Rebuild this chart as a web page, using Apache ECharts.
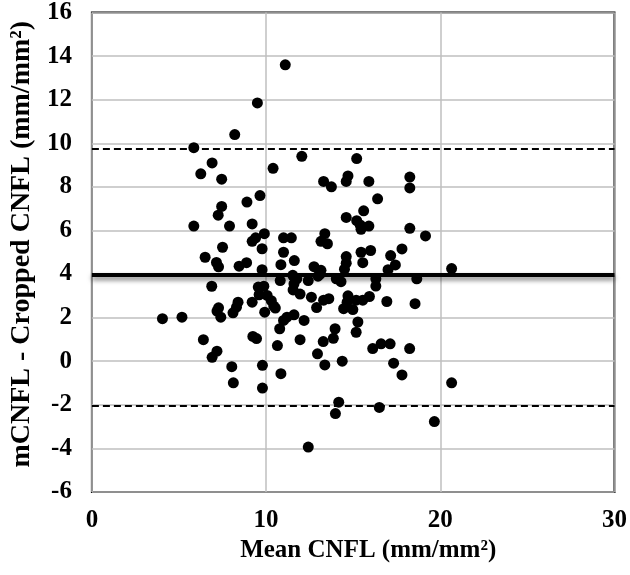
<!DOCTYPE html>
<html>
<head>
<meta charset="utf-8">
<script src="https://cdn.jsdelivr.net/npm/echarts@6/dist/echarts.min.js"></script>
<style>html,body{margin:0;padding:0;background:#fff;}#chart{width:630px;height:575px;}</style>
</head>
<body>
<div id="chart"></div>
<script>
// Mean CNFL (x) values
const meanCNFL = [
11.1,9.5,8.2,5.85,12.05,6.9,6.25,10.4,7.45,15.2,14.7,14.6,13.3,13.75,15.9,18.25,18.25,9.65,7.45,8.9,
7.25,16.4,5.85,7.9,9.2,14.6,15.6,15.2,15.4,15.45,15.9,18.25,19.15,9.9,9.4,9.2,11.0,11.45,9.77,11.0,
7.5,13.37,13.52,13.15,17.8,15.45,16.0,6.5,7.15,7.27,8.45,8.88,9.77,10.85,11.62,12.75,13.15,14.6,14.6,14.5,
15.55,17.15,17.42,17.0,20.65,6.88,9.55,9.87,9.6,10.06,10.3,10.44,10.81,11.53,11.76,11.6,11.55,11.95,12.42,12.98,
12.6,13.3,13.6,14.03,14.3,14.7,15.17,15.55,16.3,16.3,18.65,15.93,16.93,18.55,14.65,7.27,7.18,7.4,8.39,8.3,
8.1,9.2,9.92,10.53,4.05,5.17,11.0,11.2,11.6,12.18,10.78,12.9,14.45,14.98,15.27,15.17,9.24,9.45,6.4,7.18,
6.9,10.65,11.95,13.28,13.86,13.96,12.95,13.37,14.37,8.03,8.12,9.79,10.85,9.79,14.17,13.98,12.42,16.12,16.6,17.12,
18.24,17.32,17.8,20.65,16.5,19.66,13.1
];
// mCNFL - Cropped CNFL (y) values
const diffCNFL = [
13.6,11.85,10.4,9.8,9.4,9.1,8.6,8.85,8.35,9.3,8.5,8.25,8.25,8.0,8.25,8.45,7.95,7.6,7.1,7.3,
6.7,7.45,6.2,6.2,6.3,6.6,6.9,6.45,6.25,6.05,6.2,6.1,5.75,5.85,5.66,5.5,5.66,5.66,5.16,5.0,
5.23,5.85,5.39,5.5,5.15,5.0,5.08,4.77,4.53,4.33,4.36,4.52,4.2,4.43,4.62,4.34,4.17,4.8,4.5,4.22,
4.52,4.85,4.42,4.2,4.25,3.44,3.4,3.44,3.05,3.02,2.78,2.53,3.7,3.94,3.78,3.55,3.27,3.08,3.7,3.9,
2.94,2.8,2.87,3.78,3.65,3.0,2.8,2.8,3.78,3.45,3.78,2.97,2.74,2.64,2.71,2.45,2.3,2.02,2.71,2.48,
2.22,2.71,2.25,2.44,1.95,2.02,1.87,2.02,2.13,1.87,1.49,2.46,2.41,2.37,1.8,1.33,1.14,1.04,0.99,0.46,
0.18,0.72,0.99,0.9,1.05,1.49,0.34,-0.17,0.0,-0.25,-0.99,-0.19,-0.57,-1.23,-1.88,-2.4,-3.94,0.58,0.8,0.8,
0.58,-0.09,-0.63,-0.99,-2.12,-2.77,4.0
];
const meanDiff = 3.95;
const upperLoA = 9.77;
const lowerLoA = -2.05;
const xTicks = [0, 10, 20, 30];
const yTicks = [-6, -4, -2, 0, 2, 4, 6, 8, 10, 12, 14, 16];

const points = meanCNFL.map((x, i) => [x, diffCNFL[i]]);
const FONT = 'Liberation Serif';

const chart = echarts.init(document.getElementById('chart'), null, {renderer: 'canvas'});
chart.setOption({
  animation: false,
  backgroundColor: '#fff',
  grid: {left: 88, right: 14, top: 12, bottom: 83, show: true, borderColor: '#000', borderWidth: 2, backgroundColor: 'transparent'},
  xAxis: {
    type: 'value', min: xTicks[0], max: xTicks[xTicks.length - 1], interval: 10,
    name: 'Mean CNFL (mm/mm²)', nameLocation: 'middle', nameGap: 44,
    nameTextStyle: {fontFamily: FONT, fontWeight: 'bold', fontSize: 25, color: '#000', padding: [0, 0, 0, 30]},
    axisLine: {show: false}, axisTick: {show: false},
    axisLabel: {fontFamily: FONT, fontWeight: 'bold', fontSize: 25, color: '#000', margin: 16},
    splitLine: {show: true, lineStyle: {color: '#bfbfbf', width: 1.5}}
  },
  yAxis: {
    type: 'value', min: yTicks[0], max: yTicks[yTicks.length - 1], interval: 2,
    name: 'mCNFL - Cropped CNFL (mm/mm²)', nameLocation: 'middle', nameGap: 55,
    nameTextStyle: {fontFamily: FONT, fontWeight: 'bold', fontSize: 28, color: '#000', padding: [0, 0, 0, 16]},
    axisLine: {show: false}, axisTick: {show: false},
    axisLabel: {fontFamily: FONT, fontWeight: 'bold', fontSize: 25, color: '#000', margin: 20},
    splitLine: {show: true, lineStyle: {color: '#bfbfbf', width: 1.5}}
  },
  series: [{
    type: 'scatter',
    data: points,
    symbol: 'circle',
    symbolSize: 11,
    itemStyle: {color: '#000', opacity: 1},
    z: 3,
    markLine: {
      silent: true, symbol: 'none', label: {show: false}, animation: false,
      data: [
        {yAxis: upperLoA, lineStyle: {color: '#000', width: 2, type: [7, 4]}},
        {yAxis: lowerLoA, lineStyle: {color: '#000', width: 2, type: [7, 4]}},
        {yAxis: meanDiff, lineStyle: {color: '#000', width: 4, type: 'solid', shadowColor: 'rgba(0,0,0,0.55)', shadowBlur: 5, shadowOffsetY: 3}}
      ]
    }
  }]
});
</script>
</body>
</html>
